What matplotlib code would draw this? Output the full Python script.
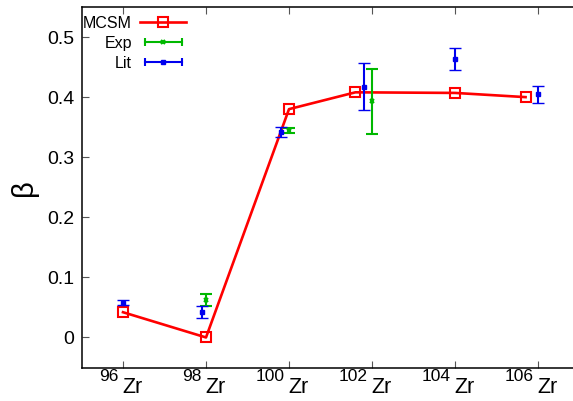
import matplotlib
matplotlib.use("Agg")
import matplotlib.pyplot as plt
from matplotlib.lines import Line2D
from matplotlib.legend_handler import HandlerLine2D, HandlerTuple

plt.rcParams['font.family'] = ['Liberation Sans', 'DejaVu Sans']

# MCSM calculation
mcsm_x = [96, 98, 100, 101.6, 104, 105.7]
mcsm_y = [0.042, 0.0, 0.38, 0.408, 0.407, 0.40]

# Experiment
exp_x = [98, 100, 102]
exp_y = [0.062, 0.344, 0.393]
exp_err = [0.010, 0.004, 0.054]

# Literature
lit_x = [96, 97.9, 99.8, 101.8, 104, 106]
lit_y = [0.058, 0.043, 0.342, 0.417, 0.463, 0.405]
lit_err = [0.004, 0.010, 0.008, 0.039, 0.018, 0.014]

tick_mass = [96, 98, 100, 102, 104, 106]
tick_elem = "Zr"
yticks = [0, 0.1, 0.2, 0.3, 0.4, 0.5]
ytick_labels = ["0", "0.1", "0.2", "0.3", "0.4", "0.5"]

RED = "#ff0000"
GREEN = "#00b800"
BLUE = "#0000ee"

fig = plt.figure(figsize=(5.73, 4.01), dpi=100)
ax = fig.add_axes([81.5 / 573, 1 - 367.5 / 401, 498 / 573, 360.5 / 401])

ax.plot(mcsm_x, mcsm_y, color=RED, lw=1.9, marker='s', ms=7, mfc='none',
        mec=RED, mew=1.5, zorder=3)
ax.errorbar(exp_x, exp_y, yerr=exp_err, fmt='x', color=GREEN, ms=3.5, mew=1.5,
            elinewidth=1.5, capsize=4, capthick=1.5, zorder=4)
ax.errorbar(lit_x, lit_y, yerr=lit_err, fmt='s', color=BLUE, ms=3, mew=1,
            elinewidth=1.5, capsize=4, capthick=1.5, zorder=5)

ax.set_xlim(95, 107)
ax.set_ylim(-0.05, 0.55)
ax.set_yticks(yticks)
ax.set_yticklabels(ytick_labels, fontsize=14)
ax.set_xticks(tick_mass)
ax.set_xticklabels([""] * len(tick_mass))
for t in tick_mass:
    ax.annotate(str(t), xy=(t, 0), xycoords=('data', 'axes fraction'),
                xytext=(-3, -1), textcoords='offset points', ha='right',
                va='top', fontsize=12.5)
    ax.annotate(tick_elem, xy=(t, 0), xycoords=('data', 'axes fraction'),
                xytext=(-0.5, -6.5), textcoords='offset points', ha='left',
                va='top', fontsize=15.5)

ax.tick_params(direction='in', length=5, width=0.8, top=True, right=True,
               pad=5, color='#555555')
for s in ax.spines.values():
    s.set_linewidth(1.1)

ax.set_ylabel("β", fontsize=21, labelpad=7)

# legend (gnuplot style)
h_mcsm = Line2D([], [], color=RED, lw=1.9, marker='s', ms=7, mfc='none',
                mec=RED, mew=1.5)
exp_line = Line2D([], [], color=GREEN, lw=1.5, marker='|', ms=6, mew=1.5)
exp_mark = Line2D([], [], color=GREEN, ls='none', marker='x', ms=3.5, mew=1.5)
lit_line = Line2D([], [], color=BLUE, lw=1.5, marker='|', ms=6, mew=1.5)
lit_mark = Line2D([], [], color=BLUE, ls='none', marker='s', ms=3, mew=1)
hmap = {
    h_mcsm: HandlerLine2D(numpoints=1),
    exp_line: HandlerLine2D(numpoints=2),
    lit_line: HandlerLine2D(numpoints=2),
    exp_mark: HandlerLine2D(numpoints=1),
    lit_mark: HandlerLine2D(numpoints=1),
}
hmap[tuple] = HandlerTuple(ndivide=1, pad=0)
leg = ax.legend([h_mcsm, (exp_line, exp_mark), (lit_line, lit_mark)],
                ["MCSM", "Exp", "Lit"], loc='upper left', frameon=False,
                markerfirst=False, alignment='right', fontsize=11.5,
                handlelength=2.9, handletextpad=0.5, labelspacing=0.3,
                borderaxespad=0.0, borderpad=0.0, handler_map=hmap,
                bbox_to_anchor=(0.003, 0.975))

fig.savefig("out.png", dpi=100)
